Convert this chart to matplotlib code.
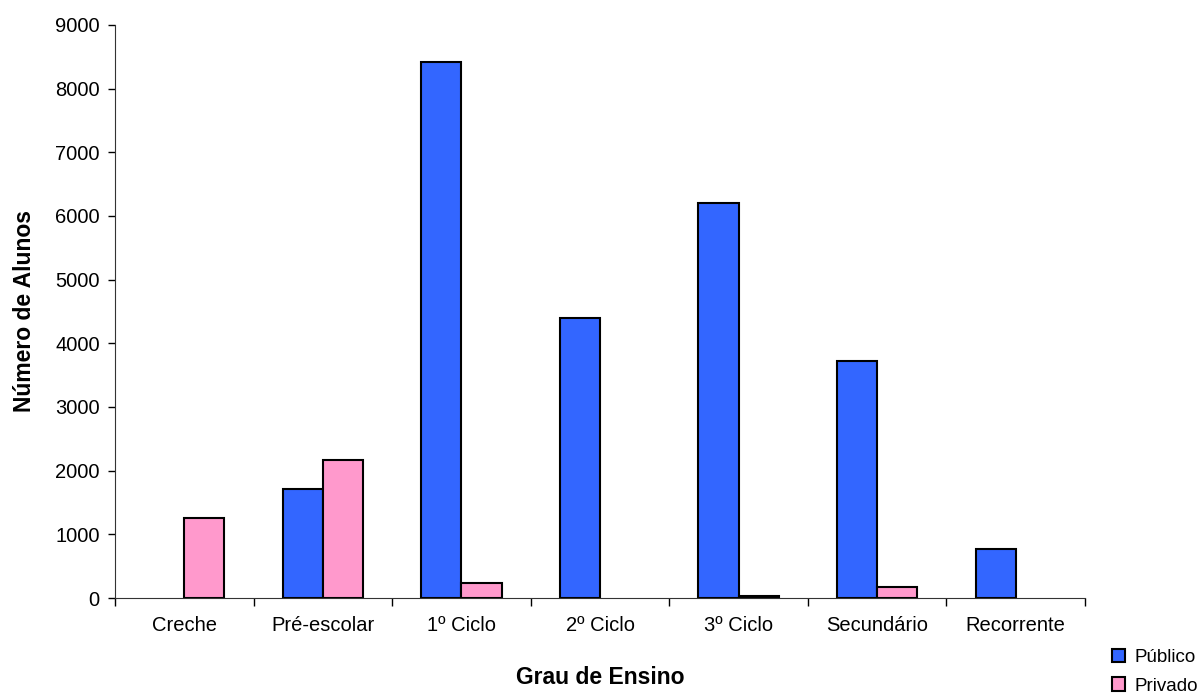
import matplotlib.pyplot as plt
import numpy as np

plt.rcParams['font.family'] = ['Liberation Sans', 'DejaVu Sans']

categorias = ['Creche', 'Pré-escolar', '1º Ciclo', '2º Ciclo', '3º Ciclo', 'Secundário', 'Recorrente']
publico = [0, 1710, 8420, 4400, 6200, 3730, 770]
privado = [1260, 2160, 240, 0, 30, 170, 0]
y_ticks = [0, 1000, 2000, 3000, 4000, 5000, 6000, 7000, 8000, 9000]

fig = plt.figure(figsize=(12, 6.97), dpi=100)
ax = fig.add_axes([115 / 1200, 1 - 598 / 697, 970 / 1200, 573 / 697])

x = np.arange(len(categorias))
w = 0.29
# zero values are not drawn at all (no outline on the baseline)
pub = np.where(np.array(publico) > 0, publico, np.nan)
priv = np.where(np.array(privado) > 0, privado, np.nan)
ax.bar(x - w / 2, pub, w, color='#3366FF', edgecolor='black', linewidth=1.5, label='Público')
ax.bar(x + w / 2, priv, w, color='#FF99CC', edgecolor='black', linewidth=1.5, label='Privado')

ax.set_xlim(-0.5, len(categorias) - 0.5)
ax.set_ylim(0, 9000)
ax.set_yticks(y_ticks)
ax.tick_params(axis='y', labelsize=14.5, length=5, width=1, pad=6)

# category labels centred, ticks at category boundaries
ax.set_xticks(np.arange(len(categorias) + 1) - 0.5)
ax.set_xticklabels([])
ax.set_xticks(x, minor=True)
ax.set_xticklabels(categorias, minor=True, fontsize=14.5)
ax.tick_params(axis='x', which='major', length=6, width=1)
ax.tick_params(axis='x', which='minor', length=0, pad=13)

for s in ['top', 'right']:
    ax.spines[s].set_visible(False)
for s in ['left', 'bottom']:
    ax.spines[s].set_color('#333333')

ax.set_xlabel('Grau de Ensino', fontsize=16.5, fontweight='bold', labelpad=22)
ax.set_ylabel('Número de Alunos', fontsize=16.5, fontweight='bold', labelpad=14)

fig.legend(loc='lower right', bbox_to_anchor=(1.006, -0.01), frameon=False, fontsize=13.5,
           handlelength=0.7, handleheight=0.7, handletextpad=0.5, labelspacing=0.6,
           borderaxespad=0.1)

fig.savefig('out.png', dpi=100)
